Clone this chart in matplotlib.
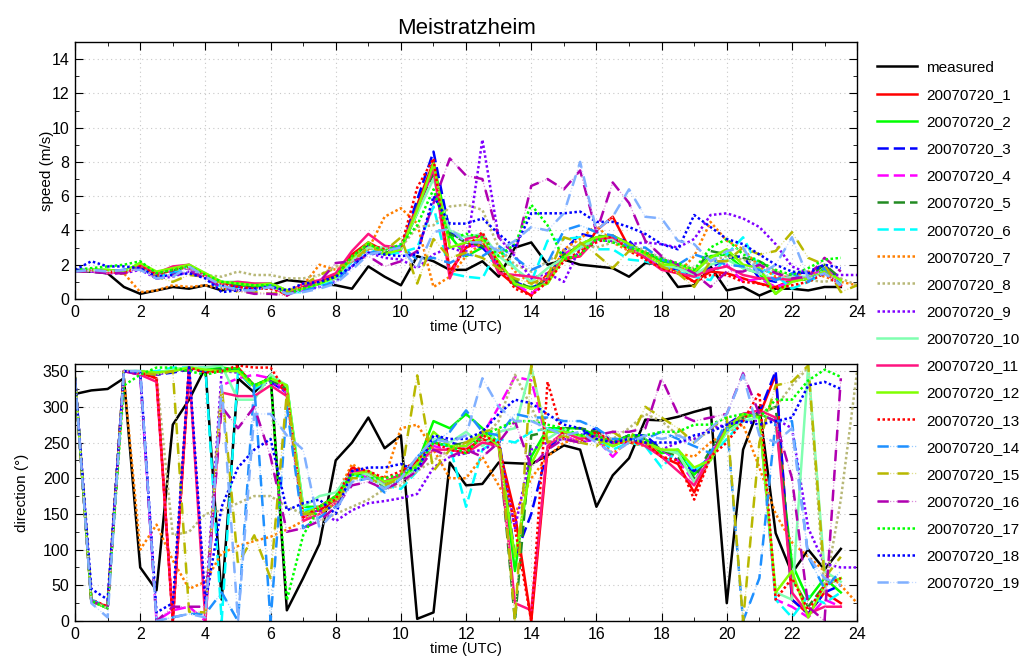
import numpy as np
import matplotlib
matplotlib.use('Agg')
import matplotlib.pyplot as plt
from matplotlib.ticker import MultipleLocator
from matplotlib.legend_handler import HandlerTuple
from matplotlib.colors import to_rgb

plt.rcParams['font.family'] = ['Liberation Sans', 'DejaVu Sans']

# half-hourly time axis (some runs go up to 24 h)
hours = np.arange(0, 24.5, 0.5)

labels = ['measured'] + [f'20070720_{i}' for i in range(1, 20)]
colors = ['#000000', '#ff0000', '#00ff00', '#0000ff', '#ff00ff', '#228b22', '#00ffff',
          '#ff7f00', '#b8b878', '#8000ff', '#80ffb0', '#ff1480', '#80ff00', '#ff0000',
          '#1e90ff', '#b8b800', '#b000b0', '#00ff00', '#0000ff', '#80b0ff']
kinds = ['solid', 'solid', 'solid', 'dash', 'dash', 'dash', 'dash',
         'dot', 'dot', 'dot', 'solid', 'solid', 'solid', 'dot',
         'dashdot', 'dashdot', 'dashdot', 'dot', 'dot', 'dashdot']

# ---- wind speed (m/s) ----
spd_meas = [1.6, 1.6, 1.5, 0.7, 0.3, 0.5, 0.7, 0.6,
            0.8, 0.5, 0.8, 0.8, 0.8, 1.1, 1.0, 0.9,
            0.8, 0.6, 1.9, 1.3, 0.8, 2.5, 2.2, 1.7,
            1.7, 2.2, 1.3, 3.0, 3.3, 2.0, 2.3, 2.0,
            1.9, 1.8, 1.3, 2.1, 2.0, 0.7, 0.8, 1.9,
            0.5, 0.7, 0.2, 0.6, 0.6, 0.5, 0.7, 0.7]
spd_1 = [1.6, 1.7, 1.6, 1.5, 2.0, 1.4, 1.7, 1.9,
         1.4, 0.9, 0.9, 0.8, 0.8, 0.2, 0.8, 1.0,
         1.4, 2.6, 3.3, 2.8, 3.0, 5.5, 8.0, 1.6,
         3.0, 3.4, 1.6, 0.8, 0.2, 1.5, 2.3, 2.5,
         4.0, 4.8, 3.0, 2.4, 1.8, 1.6, 1.0, 1.6,
         1.5, 1.2, 0.9, 0.7, 1.1, 1.2, 1.6, 0.8]
spd_2 = [1.6, 1.7, 1.7, 1.6, 2.1, 1.5, 1.8, 1.9,
         1.4, 1.0, 0.8, 0.7, 0.9, 0.5, 0.6, 0.9,
         1.2, 2.4, 3.2, 2.6, 2.9, 5.0, 7.9, 3.7,
         2.5, 3.0, 2.2, 0.8, 0.7, 0.9, 2.6, 3.0,
         3.6, 3.7, 3.2, 2.7, 2.2, 2.0, 1.5, 2.5,
         2.6, 1.8, 1.5, 0.3, 1.2, 1.1, 1.8, 1.0]
spd_3 = [1.7, 1.7, 1.6, 1.7, 1.8, 1.3, 1.6, 1.8,
         1.3, 0.8, 0.7, 0.8, 0.9, 0.4, 0.6, 0.9,
         1.2, 2.3, 3.1, 2.8, 2.9, 5.8, 8.6, 3.9,
         3.3, 3.0, 2.0, 1.0, 0.6, 1.2, 2.8, 3.8,
         3.6, 3.5, 3.4, 2.4, 2.0, 1.7, 1.4, 1.8,
         2.4, 2.5, 1.2, 1.0, 1.4, 1.6, 2.0, 1.0]
spd_4 = [1.6, 1.6, 1.6, 1.5, 1.9, 1.4, 1.7, 1.8,
         1.3, 0.9, 0.8, 0.6, 0.7, 0.3, 0.5, 0.9,
         1.2, 2.2, 3.0, 2.6, 2.8, 5.2, 7.5, 3.2,
         3.0, 3.2, 2.0, 0.9, 0.3, 1.0, 2.6, 3.2,
         3.5, 3.7, 3.0, 2.5, 1.9, 1.8, 1.5, 1.7,
         2.0, 1.0, 1.2, 0.7, 1.0, 1.3, 1.8, 1.1]
spd_5 = [1.6, 1.7, 1.6, 1.6, 1.9, 1.5, 1.7, 1.9,
         1.4, 0.9, 0.8, 0.7, 0.8, 0.5, 0.6, 0.9,
         1.3, 2.4, 3.0, 2.7, 2.9, 5.4, 7.3, 3.8,
         3.3, 3.1, 1.9, 1.1, 0.6, 1.2, 2.6, 3.1,
         3.7, 3.6, 3.2, 2.7, 2.4, 1.8, 1.6, 2.8,
         2.6, 2.4, 2.2, 1.6, 1.1, 1.3, 2.0, 1.2]
spd_6 = [1.6, 1.7, 1.6, 1.7, 1.8, 1.3, 1.5, 1.9,
         1.4, 0.7, 0.6, 0.5, 0.8, 0.4, 0.4, 0.8,
         1.1, 2.2, 2.9, 2.6, 2.7, 3.0, 5.4, 1.5,
         1.3, 1.2, 3.0, 1.8, 1.0, 3.4, 3.5, 3.6,
         2.9, 2.9, 2.3, 2.2, 1.9, 1.6, 1.3, 1.1,
         2.6, 3.6, 1.8, 1.4, 0.6, 1.0, 1.5, 0.9]
spd_7 = [1.6, 1.7, 1.6, 1.5, 0.4, 0.5, 0.8, 0.7,
         0.8, 0.6, 0.5, 0.6, 0.6, 0.5, 0.8, 2.0,
         1.7, 2.2, 2.9, 4.8, 5.3, 4.4, 0.7, 1.3,
         2.5, 3.3, 2.8, 1.6, 0.9, 1.1, 2.9, 3.5,
         4.3, 3.3, 2.8, 2.6, 2.1, 1.5, 2.5, 4.5,
         3.4, 2.9, 1.9, 1.3, 1.3, 1.6, 1.3, 1.0, 0.8]
spd_8 = [1.6, 1.7, 1.6, 1.6, 1.9, 1.4, 1.7, 1.8,
         1.4, 1.3, 1.6, 1.4, 1.4, 1.2, 1.2, 1.4,
         1.9, 2.3, 3.0, 2.6, 3.0, 4.2, 4.3, 5.4,
         5.5, 5.2, 3.0, 2.0, 1.6, 2.2, 2.8, 3.2,
         3.0, 3.3, 3.2, 2.8, 2.4, 2.0, 1.8, 2.2,
         2.5, 2.3, 2.0, 1.6, 1.3, 1.1, 1.0, 1.2, 0.8]
spd_9 = [1.6, 1.6, 1.5, 1.5, 1.7, 1.2, 1.3, 1.6,
         1.3, 1.0, 0.7, 0.6, 0.7, 0.5, 0.5, 0.7,
         1.0, 1.9, 2.7, 2.4, 2.3, 1.8, 2.6, 3.0,
         2.7, 9.3, 3.6, 2.5, 1.2, 1.5, 1.0, 3.0,
         3.4, 3.4, 3.2, 3.3, 3.2, 3.0, 3.5, 4.9,
         5.0, 4.7, 4.2, 3.2, 1.9, 1.5, 1.4, 1.4, 1.4]
spd_10 = [1.6, 1.7, 1.6, 1.6, 2.0, 1.5, 1.8, 2.0,
          1.5, 1.0, 1.0, 0.9, 0.9, 0.5, 0.6, 0.9,
          1.2, 2.3, 3.0, 3.0, 3.1, 5.0, 7.0, 4.0,
          3.6, 3.8, 2.5, 1.8, 1.0, 1.8, 2.4, 3.0,
          3.5, 3.5, 3.0, 2.6, 2.0, 1.8, 1.4, 2.0,
          2.3, 1.8, 1.5, 1.1, 1.3, 1.3, 1.5, 1.0]
spd_11 = [1.6, 1.7, 1.5, 1.6, 2.0, 1.5, 1.9, 2.0,
          1.4, 0.9, 1.0, 0.9, 0.9, 0.3, 0.9, 1.1,
          1.5, 2.8, 3.8, 3.1, 3.0, 5.3, 7.6, 1.2,
          3.5, 3.7, 1.5, 1.4, 1.3, 1.1, 2.4, 2.5,
          3.5, 3.6, 3.0, 2.4, 1.7, 1.5, 1.3, 1.7,
          1.9, 1.4, 1.2, 1.2, 1.1, 1.2, 1.6, 0.8]
spd_12 = [1.6, 1.7, 1.7, 1.6, 2.1, 1.6, 1.8, 2.0,
          1.5, 1.0, 0.9, 0.8, 0.9, 0.5, 0.6, 0.9,
          1.3, 2.4, 3.3, 2.6, 2.9, 5.2, 7.9, 3.0,
          3.3, 3.5, 2.2, 0.9, 0.6, 0.9, 2.4, 3.2,
          3.6, 3.7, 3.2, 2.6, 2.0, 2.0, 1.6, 2.4,
          2.9, 2.0, 1.8, 0.3, 1.0, 1.2, 1.6, 1.1]
spd_13 = [1.6, 1.7, 1.6, 1.5, 1.9, 1.4, 1.7, 1.9,
          1.3, 0.9, 0.7, 0.6, 0.6, 0.3, 0.7, 1.0,
          1.3, 2.5, 3.2, 2.9, 3.0, 6.5, 8.2, 1.5,
          3.0, 3.9, 2.0, 0.6, 0.2, 1.0, 2.2, 2.8,
          3.3, 3.7, 2.8, 2.3, 1.8, 1.5, 1.0, 1.4,
          1.4, 1.0, 0.9, 0.6, 0.8, 1.0, 1.5, 0.7]
spd_14 = [1.6, 1.7, 1.6, 1.7, 1.8, 1.2, 1.5, 1.6,
          1.2, 0.6, 0.5, 0.5, 0.8, 0.3, 0.5, 0.7,
          1.0, 2.0, 2.7, 2.8, 3.1, 2.3, 2.4, 2.1,
          2.6, 2.5, 3.1, 2.4, 1.7, 2.1, 4.0, 4.3,
          3.9, 3.7, 3.0, 3.0, 2.3, 2.0, 2.6, 2.3,
          2.0, 1.9, 1.7, 1.1, 1.5, 1.0, 1.8, 0.8]
spd_15 = [1.6, 1.6, 1.6, 1.5, 1.8, 1.3, 1.0, 1.4,
          1.3, 0.9, 0.4, 0.4, 0.3, 0.4, 0.8, 1.4,
          1.8, 2.2, 3.0, 2.8, 3.6, 0.9, 3.5, 2.4,
          2.7, 2.4, 1.8, 1.2, 0.9, 1.3, 3.6, 3.3,
          2.6, 1.8, 2.8, 2.7, 1.9, 1.5, 0.7, 2.2,
          2.2, 3.0, 2.6, 2.8, 3.9, 2.4, 2.0, 0.4, 0.8]
spd_16 = [1.6, 1.6, 1.5, 1.5, 1.8, 1.2, 1.4, 1.6,
          1.2, 0.7, 0.5, 0.3, 0.3, 0.2, 0.7, 1.0,
          2.1, 2.2, 2.5, 1.9, 2.2, 2.8, 5.6, 8.2,
          7.2, 7.0, 3.6, 2.6, 6.6, 7.0, 6.4, 7.5,
          3.9, 6.8, 5.6, 3.4, 2.5, 2.0, 1.5, 0.7,
          1.6, 1.6, 2.0, 1.5, 1.2, 1.3, 2.4, 1.6]
spd_17 = [1.7, 1.8, 1.9, 2.0, 2.2, 1.5, 1.7, 1.9,
          1.4, 1.0, 0.9, 0.8, 0.8, 0.3, 0.6, 0.9,
          1.3, 2.5, 3.2, 2.8, 3.2, 4.3, 6.4, 3.5,
          3.8, 3.6, 2.5, 3.2, 5.5, 4.3, 2.3, 2.6,
          3.5, 3.3, 3.0, 2.7, 2.3, 2.1, 1.7, 3.0,
          3.5, 2.6, 2.2, 1.7, 1.4, 1.8, 2.3, 2.4]
spd_18 = [1.7, 2.2, 1.9, 1.9, 1.8, 1.3, 1.4, 1.5,
          1.2, 0.4, 0.5, 0.6, 0.7, 0.5, 0.9, 1.0,
          1.3, 1.9, 2.7, 2.6, 2.5, 2.6, 6.0, 4.4,
          4.4, 4.7, 3.8, 3.0, 5.0, 5.0, 5.0, 5.1,
          4.5, 4.5, 4.2, 3.8, 3.2, 2.9, 4.9, 4.2,
          3.5, 3.2, 2.6, 2.0, 1.6, 1.5, 2.0, 1.8]
spd_19 = [1.6, 1.7, 1.6, 1.7, 1.7, 1.2, 1.3, 1.9,
          1.3, 0.8, 0.5, 0.5, 0.7, 0.3, 0.4, 0.6,
          0.9, 1.7, 2.6, 2.8, 3.0, 1.8, 3.9, 4.1,
          3.3, 3.3, 2.8, 3.4, 4.2, 4.0, 5.0, 8.0,
          4.0, 4.8, 6.4, 4.8, 4.7, 3.4, 3.2, 2.2,
          2.8, 3.0, 1.4, 2.0, 3.6, 1.2, 1.5, 0.8]

# ---- wind direction (degrees) ----
dir_meas = [318, 323, 325, 340, 75, 43, 275, 310,
            355, 30, 340, 320, 345, 15, 60, 108,
            225, 250, 285, 242, 260, 3, 12, 222,
            190, 192, 222, 221, 220, 232, 246, 240,
            160, 204, 228, 282, 281, 286, 293, 299,
            25, 240, 300, 123, 67, 100, 72, 101]
dir_1 = [340, 28, 20, 350, 348, 340, 0, 355,
         350, 350, 355, 330, 340, 320, 150, 155,
         170, 215, 205, 190, 205, 225, 250, 245,
         240, 255, 245, 150, 0, 240, 265, 255,
         265, 245, 255, 250, 230, 220, 180, 230,
         270, 290, 288, 345, 30, 10, 40, 25]
dir_2 = [340, 28, 18, 350, 348, 348, 352, 355,
         352, 355, 352, 330, 340, 330, 160, 160,
         175, 210, 205, 195, 205, 220, 280, 270,
         290, 270, 250, 70, 230, 270, 270, 270,
         260, 250, 255, 255, 235, 240, 205, 230,
         265, 285, 290, 280, 80, 30, 60, 40]
dir_3 = [340, 30, 18, 350, 348, 345, 348, 352,
         350, 352, 350, 325, 335, 320, 150, 160,
         170, 210, 205, 190, 200, 215, 260, 250,
         245, 265, 260, 90, 150, 240, 265, 260,
         270, 250, 260, 260, 240, 225, 210, 230,
         275, 290, 292, 350, 30, 10, 40, 50]
dir_4 = [340, 28, 18, 350, 345, 0, 15, 20,
         0, 330, 340, 345, 340, 320, 145, 160,
         170, 210, 200, 195, 205, 220, 245, 240,
         245, 260, 300, 342, 337, 250, 260, 250,
         255, 230, 255, 250, 240, 225, 195, 235,
         270, 290, 285, 30, 20, 5, 30, 20]
dir_5 = [340, 28, 18, 350, 348, 345, 350, 352,
         352, 352, 350, 325, 338, 325, 155, 150,
         165, 205, 205, 185, 200, 215, 250, 245,
         250, 255, 250, 0, 260, 265, 270, 270,
         265, 250, 260, 255, 240, 230, 200, 240,
         270, 285, 290, 300, 60, 20, 50, 60]
dir_6 = [340, 30, 18, 350, 350, 350, 355, 355,
         355, 0, 350, 325, 340, 330, 155, 160,
         170, 205, 200, 190, 185, 210, 250, 245,
         160, 240, 255, 250, 265, 270, 265, 260,
         255, 240, 250, 245, 215, 240, 210, 230,
         255, 280, 285, 30, 5, 35, 25, 40]
dir_7 = [340, 30, 20, 340, 100, 135, 85, 45,
         55, 95, 105, 112, 118, 128, 140, 160,
         175, 220, 205, 200, 270, 275, 240, 200,
         200, 230, 190, 150, 200, 230, 250, 255,
         255, 235, 250, 245, 240, 235, 230, 250,
         265, 275, 215, 150, 110, 90, 70, 50, 25]
dir_8 = [340, 28, 18, 350, 348, 345, 120, 125,
         150, 155, 165, 175, 175, 160, 150, 140,
         150, 160, 170, 185, 190, 210, 225, 240,
         250, 255, 280, 345, 300, 250, 255, 250,
         260, 255, 270, 290, 280, 260, 255, 265,
         275, 285, 290, 300, 330, 355, 40, 170, 350]
dir_9 = [340, 30, 18, 350, 348, 345, 350, 352,
         20, 350, 348, 330, 335, 320, 150, 155,
         140, 155, 165, 168, 172, 178, 215, 230,
         235, 240, 250, 130, 240, 250, 255, 250,
         255, 250, 255, 250, 240, 250, 255, 270,
         275, 280, 280, 283, 270, 130, 80, 75, 75]
dir_10 = [340, 28, 18, 350, 348, 348, 352, 355,
          355, 358, 310, 310, 345, 330, 160, 175,
          180, 210, 205, 190, 200, 215, 255, 250,
          265, 245, 265, 270, 356, 255, 270, 255,
          260, 245, 255, 250, 240, 235, 195, 225,
          265, 280, 285, 40, 30, 358, 70, 55]
dir_11 = [340, 28, 20, 350, 345, 335, 0, 355,
          0, 320, 315, 315, 330, 315, 140, 150,
          165, 210, 210, 195, 205, 220, 240, 240,
          235, 250, 245, 25, 15, 245, 265, 255,
          260, 250, 255, 245, 230, 210, 190, 230,
          270, 290, 295, 285, 40, 10, 20, 20]
dir_12 = [340, 28, 18, 350, 350, 348, 350, 355,
          352, 350, 350, 328, 340, 330, 150, 160,
          170, 205, 210, 195, 200, 220, 265, 245,
          245, 265, 245, 90, 220, 265, 265, 260,
          255, 245, 255, 250, 240, 240, 215, 225,
          270, 290, 285, 40, 70, 5, 50, 60]
dir_13 = [340, 30, 20, 350, 348, 340, 0, 355,
          348, 350, 358, 355, 355, 320, 145, 160,
          170, 215, 210, 200, 210, 225, 250, 240,
          235, 260, 250, 130, 0, 335, 255, 250,
          265, 250, 250, 250, 230, 225, 170, 230,
          250, 280, 320, 30, 60, 15, 50, 60]
dir_14 = [340, 30, 18, 350, 350, 0, 5, 10,
          10, 40, 0, 330, 0, 300, 130, 145,
          160, 195, 200, 180, 200, 230, 250, 265,
          295, 265, 260, 290, 285, 285, 280, 280,
          270, 255, 255, 255, 265, 255, 245, 235,
          280, 0, 60, 280, 280, 90, 45, 70]
dir_15 = [340, 28, 18, 350, 348, 345, 350, 13,
          12, 330, 80, 120, 60, 320, 150, 150,
          165, 200, 200, 190, 200, 344, 210, 240,
          250, 265, 270, 0, 358, 250, 260, 250,
          245, 265, 250, 300, 285, 270, 250, 270,
          285, 0, 250, 330, 335, 358, 60, 90]
dir_16 = [340, 28, 18, 350, 345, 0, 20, 20,
          20, 300, 270, 300, 230, 125, 130, 140,
          160, 190, 195, 185, 195, 210, 240, 230,
          240, 230, 250, 280, 215, 240, 255, 250,
          260, 265, 265, 270, 340, 290, 280, 285,
          290, 347, 290, 280, 200, 20, 0, 340]
dir_17 = [340, 28, 18, 330, 345, 355, 355, 350,
          345, 350, 355, 330, 340, 29, 120, 160,
          175, 205, 200, 200, 205, 215, 250, 245,
          235, 260, 270, 280, 280, 275, 270, 260,
          260, 250, 260, 260, 265, 265, 275, 275,
          285, 290, 285, 310, 310, 337, 352, 342]
dir_18 = [340, 45, 30, 350, 348, 12, 25, 358,
          25, 160, 215, 240, 255, 155, 165, 170,
          150, 210, 215, 215, 220, 210, 260, 255,
          255, 265, 290, 310, 305, 290, 275, 270,
          255, 250, 255, 250, 250, 250, 260, 265,
          275, 280, 275, 280, 285, 330, 335, 325]
dir_19 = [340, 25, 5, 350, 350, 0, 5, 10,
          5, 330, 0, 290, 290, 260, 240, 130,
          155, 195, 200, 185, 200, 230, 255, 250,
          260, 340, 300, 280, 280, 270, 260, 265,
          250, 235, 250, 260, 255, 260, 250, 270,
          290, 345, 260, 250, 270, 90, 60, 50]

speed = [spd_meas, spd_1, spd_2, spd_3, spd_4, spd_5, spd_6, spd_7, spd_8, spd_9,
         spd_10, spd_11, spd_12, spd_13, spd_14, spd_15, spd_16, spd_17, spd_18, spd_19]
direction = [dir_meas, dir_1, dir_2, dir_3, dir_4, dir_5, dir_6, dir_7, dir_8, dir_9,
             dir_10, dir_11, dir_12, dir_13, dir_14, dir_15, dir_16, dir_17, dir_18, dir_19]

for s in speed + direction:
    if len(s) not in (48, 49):
        raise ValueError(f'bad length {len(s)}: {s[:8]}')


def lighten(c, f=0.55):
    r, g, b = to_rgb(c)
    return (r + (1 - r) * f, g + (1 - g) * f, b + (1 - b) * f)


def draw_runs(ax, data):
    handles = []
    for vals, col, kind in zip(data, colors, kinds):
        x = hours[:len(vals)]
        if kind == 'solid':
            h, = ax.plot(x, vals, color=col, lw=1.8)
        elif kind == 'dash':
            h, = ax.plot(x, vals, color=col, lw=1.8, ls=(0, (4.5, 2)))
        elif kind == 'dot':
            h, = ax.plot(x, vals, color=col, lw=1.8, ls=(0, (1, 1)))
        else:
            faint, = ax.plot(x, vals, color=lighten(col), lw=0.9, ls=(0, (1, 1.5)))
            dash, = ax.plot(x, vals, color=col, lw=1.8, ls=(0, (4.5, 3.5)))
            h = (faint, dash)
        handles.append(h)
    return handles


def style_axes(ax):
    ax.set_xlim(0, 24)
    ax.xaxis.set_major_locator(MultipleLocator(2))
    ax.xaxis.set_minor_locator(MultipleLocator(1))
    ax.tick_params(which='both', direction='in', top=True, right=True, labelsize=11.5)
    ax.tick_params(which='major', length=6, pad=4)
    ax.tick_params(which='minor', length=3)
    ax.grid(True, which='major', color='#c8c8c8', lw=0.8, ls=(0, (1, 3)))
    ax.set_xlabel('time (UTC)', fontsize=10.5, labelpad=0)
    for sp in ax.spines.values():
        sp.set_linewidth(1.0)


fig = plt.figure(figsize=(10.21, 6.6), dpi=100)
ax1 = fig.add_axes([0.0735, 0.547, 0.766, 0.3894])
ax2 = fig.add_axes([0.0735, 0.0591, 0.766, 0.3894])

handles = draw_runs(ax1, speed)
style_axes(ax1)
ax1.set_ylim(0, 15)
ax1.yaxis.set_major_locator(MultipleLocator(2))
ax1.yaxis.set_minor_locator(MultipleLocator(1))
ax1.set_ylabel('speed (m/s)', fontsize=11)
ax1.yaxis.set_label_coords(-0.027, 0.5)
ax1.set_title('Meistratzheim', fontsize=16, pad=6)

draw_runs(ax2, direction)
style_axes(ax2)
ax2.set_ylim(0, 360)
ax2.yaxis.set_major_locator(MultipleLocator(50))
ax2.yaxis.set_minor_locator(MultipleLocator(25))
ax2.set_ylabel('direction (°)', fontsize=11)
ax2.yaxis.set_label_coords(-0.059, 0.5)

fig.legend(handles, labels, loc='upper left', bbox_to_anchor=(0.859, 0.908),
           frameon=False, fontsize=11, handlelength=2.6, handletextpad=0.6,
           labelspacing=0.86, borderpad=0, borderaxespad=0,
           handler_map={tuple: HandlerTuple(ndivide=1)})

fig.savefig('out.png', dpi=100)
